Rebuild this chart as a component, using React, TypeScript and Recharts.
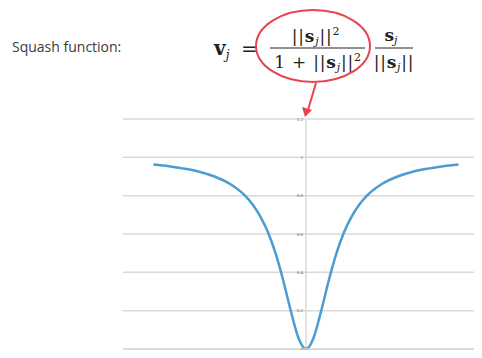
import { LineChart, Line, XAxis, YAxis, ReferenceLine, ReferenceDot } from "recharts";

// curve, ||s||^2 / (1 + ||s||^2)
const xs = [-5, -4.5, -4, -3.5, -3, -2.5, -2, -1.75, -1.5, -1.25, -1, -0.75, -0.5, -0.25, 0,
  0.25, 0.5, 0.75, 1, 1.25, 1.5, 1.75, 2, 2.5, 3, 3.5, 4, 4.5, 5];
const ys = [0.962, 0.953, 0.941, 0.925, 0.9, 0.862, 0.8, 0.754, 0.692, 0.61, 0.5, 0.36, 0.2, 0.059, 0,
  0.059, 0.2, 0.36, 0.5, 0.61, 0.692, 0.754, 0.8, 0.862, 0.9, 0.925, 0.941, 0.953, 0.962];

// the 6 label sits past the right edge of the picture
const X_TICKS = [-6, -4, -2, 0, 2, 4];
const Y_TICKS = [0, 0.2, 0.4, 0.6, 0.8, 1, 1.2];
const Y_LABELS = ["0", "0.2", "0.4", "0.6", "0.8", "1", "1.2"];

const data = xs.map((x, i) => ({ x, y: ys[i] }));

const GRID = "#d9d9d9";
const BLUE = "#4b9cd3";
const RED = "#e8434f";
const SERIF = "'DejaVu Serif', 'Liberation Serif', serif";

function Norm({ sq }: { sq?: boolean }) {
  return (
    <>
      <tspan>||</tspan>
      <tspan fontWeight="bold">s</tspan>
      <tspan fontStyle="italic" fontSize={11} dy={3}>j</tspan>
      <tspan dy={-3}>||</tspan>
      {sq && <tspan fontSize={11} dy={-7}>2</tspan>}
    </>
  );
}

function Formula() {
  return (
    <svg width={482} height={358} style={{ position: "absolute", left: 0, top: 0, pointerEvents: "none" }}>
      <text x={12} y={52} fontFamily="'Open Sans', sans-serif" fontSize={14} fill="#3a3a3a">
        Squash function:
      </text>
      <g fontFamily={SERIF} fill="#222">
        <text x={214} y={55} fontSize={20}>
          <tspan fontWeight="bold">v</tspan>
          <tspan fontStyle="italic" fontSize={12} dy={4}>j</tspan>
        </text>
        <text x={241} y={56} fontSize={20}>=</text>
        <text x={316} y={42} fontSize={17} textAnchor="middle" letterSpacing={0.8}>
          <Norm sq />
        </text>
        <line x1={270} y1={48} x2={365} y2={48} stroke="#222" strokeWidth={1} />
        <text x={318} y={68} fontSize={17} textAnchor="middle" letterSpacing={0.8}>
          <tspan>1 + </tspan>
          <Norm sq />
        </text>
        <text x={391} y={41} fontSize={17} textAnchor="middle">
          <tspan fontWeight="bold">s</tspan>
          <tspan fontStyle="italic" fontSize={11} dy={3}>j</tspan>
        </text>
        <line x1={375} y1={48} x2={413} y2={48} stroke="#222" strokeWidth={1} />
        <text x={394} y={68} fontSize={17} textAnchor="middle" letterSpacing={0.8}>
          <Norm />
        </text>
      </g>
      <ellipse cx={313} cy={46} rx={57} ry={36} fill="none" stroke={RED} strokeWidth={2} />
      <line x1={316} y1={83} x2={308} y2={110} stroke={RED} strokeWidth={2} />
      <polygon points="305,117 302,107 312,110" fill={RED} />
    </svg>
  );
}

export default function App() {
  return (
    <div style={{ position: "relative", width: 482, height: 358, overflow: "hidden", margin: -8, background: "#fff" }}>
      <LineChart width={500} height={370} data={data} margin={{ top: 119, right: 11, bottom: 9, left: 123 }}>
        <XAxis dataKey="x" type="number" domain={[-6, 6]} ticks={X_TICKS} interval={0} height={12}
          axisLine={{ stroke: "#cfcfcf", strokeWidth: 1.5 }} tickLine={false} tickSize={3} tickMargin={0}
          tick={{ fontSize: 6, fill: "#555", fontFamily: "Arial, sans-serif" }} />
        <YAxis type="number" domain={[0, 1.2]} ticks={Y_TICKS} width={0} tick={false} tickLine={false}
          axisLine={{ stroke: GRID, strokeWidth: 1.5 }} />
        {Y_TICKS.filter((v) => v > 0).map((v) => (
          <ReferenceLine key={"g" + v} y={v} stroke={GRID} strokeWidth={1.5} />
        ))}
        <ReferenceLine x={0} stroke={GRID} strokeWidth={1.5} />
        {Y_TICKS.map((v, i) => (
          <ReferenceDot key={v} x={0} y={v} r={0} fill="none" stroke="none" ifOverflow="visible"
            label={{ value: Y_LABELS[i], position: "left", offset: 3, fontSize: 5, fill: "#666" }} />
        ))}
        <Line type="monotone" dataKey="y" stroke={BLUE} strokeWidth={2.5} dot={false} isAnimationActive={false} />
      </LineChart>
      <Formula />
    </div>
  );
}
